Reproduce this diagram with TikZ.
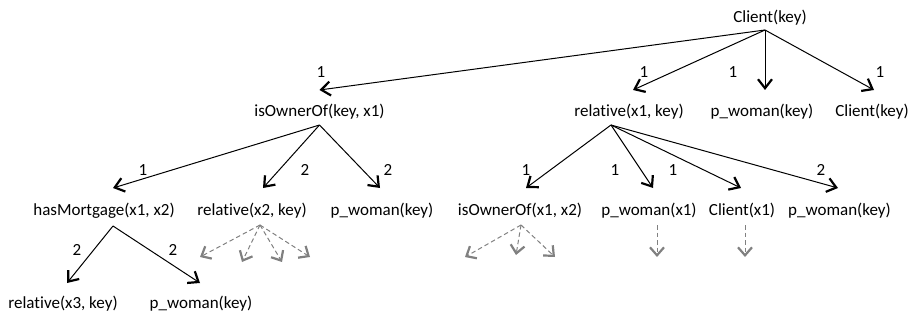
\documentclass[tikz,border=0pt]{standalone}
\usepackage{fontspec}
\setmainfont{Carlito}[Ligatures=NoCommon]
\usetikzlibrary{arrows.meta}
\definecolor{dgray}{RGB}{128,128,128}
\tikzset{
  lab/.style={inner sep=0pt, outer sep=0pt, font=\fontsize{17}{20}\selectfont, text height=14pt, text depth=2pt, minimum height=34pt},
  num/.style={inner sep=0pt, font=\fontsize{17}{20}\selectfont},
  edge/.style={draw=black, line width=1pt, -{Straight Barb[length=9pt,width=14pt,line width=2.2pt]}},
  dedge/.style={draw=dgray, line width=1pt, dash pattern=on 4.5pt off 3pt, -{Straight Barb[length=8pt,width=14pt,line width=2.2pt]}},
}
\begin{document}
\begin{tikzpicture}[x=1pt,y=-1pt]
\useasboundingbox (0,0) rectangle (917,323);
% row 1
\node[lab] (c0) at (770,17) {Client(key)};
% row 2
\node[lab] (a) at (319.5,111) {isOwnerOf(key, x1)};
\node[lab] (b) at (629,111) {relative(x1, key)};
\node[lab] (c) at (762,111) {p\_woman(key)};
\node[lab] (d) at (872,111) {Client(key)};
% row 3
\node[lab] (e) at (104,209) {hasMortgage(x1, x2)};
\node[lab] (f) at (252,209) {relative(x2, key)};
\node[lab] (g) at (382,209) {p\_woman(key)};
\node[lab] (h) at (520,209) {isOwnerOf(x1, x2)};
\node[lab] (i) at (649,209) {p\_woman(x1)};
\node[lab] (j) at (742,209) {Client(x1)};
\node[lab] (k) at (839.5,209) {p\_woman(key)};
% row 4
\node[lab] (l) at (63,302) {relative(x3, key)};
\node[lab] (m) at (201,302) {p\_woman(key)};
% labels
\node[num] (n1) at (321,72) {1};
\node[num] (n2) at (644,72) {1};
\node[num] (n3) at (733,72) {1};
\node[num] (n4) at (880,72) {1};
\node[num] (n5) at (143,170) {1};
\node[num] (n6) at (305,170) {2};
\node[num] (n7) at (388,170) {2};
\node[num] (n8) at (526,170) {1};
\node[num] (n9) at (615,170) {1};
\node[num] (n10) at (673,170) {1};
\node[num] (n11) at (821,170) {2};
\node[num] (n12) at (77,250) {2};
\node[num] (n13) at (173,250) {2};
% solid edges
\draw[edge] ([xshift=-5pt,yshift=4pt]c0.south) -- ([xshift=0pt,yshift=4pt]a.north);
\draw[edge] ([xshift=-5pt,yshift=4pt]c0.south) -- ([xshift=4pt,yshift=4pt]b.north);
\draw[edge] ([xshift=-5pt,yshift=4pt]c0.south) -- ([xshift=3pt,yshift=4pt]c.north);
\draw[edge] ([xshift=-5pt,yshift=4pt]c0.south) -- ([xshift=2pt,yshift=4pt]d.north);
\draw[edge] ([xshift=0pt,yshift=3pt]a.south) -- ([xshift=9pt,yshift=4pt]e.north);
\draw[edge] ([xshift=0pt,yshift=3pt]a.south) -- ([xshift=11pt,yshift=4pt]f.north);
\draw[edge] ([xshift=0pt,yshift=3pt]a.south) -- ([xshift=-2pt,yshift=4pt]g.north);
\draw[edge] ([xshift=-18pt,yshift=3pt]b.south) -- ([xshift=6pt,yshift=4pt]h.north);
\draw[edge] ([xshift=-18pt,yshift=3pt]b.south) -- ([xshift=4pt,yshift=4pt]i.north);
\draw[edge] ([xshift=-18pt,yshift=3pt]b.south) -- ([xshift=-1pt,yshift=4pt]j.north);
\draw[edge] ([xshift=-18pt,yshift=3pt]b.south) -- ([xshift=-1.5pt,yshift=4pt]k.north);
\draw[edge] ([xshift=9pt,yshift=0pt]e.south) -- ([xshift=4pt,yshift=2pt]l.north);
\draw[edge] ([xshift=9pt,yshift=0pt]e.south) -- ([xshift=-1pt,yshift=2pt]m.north);
% dashed continuations
\coordinate (f1) at (200,257);
\coordinate (f2) at (242,262);
\coordinate (f3) at (282,262);
\coordinate (f4) at (310,257);
\coordinate (h1) at (465,257);
\coordinate (h2) at (516,255);
\coordinate (h3) at (555,257);
\coordinate (i1) at (657,257);
\coordinate (j1) at (745,257);
\draw[dedge] ([xshift=8pt,yshift=1pt]f.south) -- (f1);
\draw[dedge] ([xshift=8pt,yshift=1pt]f.south) -- (f2);
\draw[dedge] ([xshift=8pt,yshift=1pt]f.south) -- (f3);
\draw[dedge] ([xshift=8pt,yshift=1pt]f.south) -- (f4);
\draw[dedge] ([xshift=1pt,yshift=1pt]h.south) -- (h1);
\draw[dedge] ([xshift=1pt,yshift=1pt]h.south) -- (h2);
\draw[dedge] ([xshift=1pt,yshift=1pt]h.south) -- (h3);
\draw[dedge] ([xshift=8pt,yshift=1pt]i.south) -- (i1);
\draw[dedge] ([xshift=3pt,yshift=1pt]j.south) -- (j1);
\end{tikzpicture}
\end{document}
